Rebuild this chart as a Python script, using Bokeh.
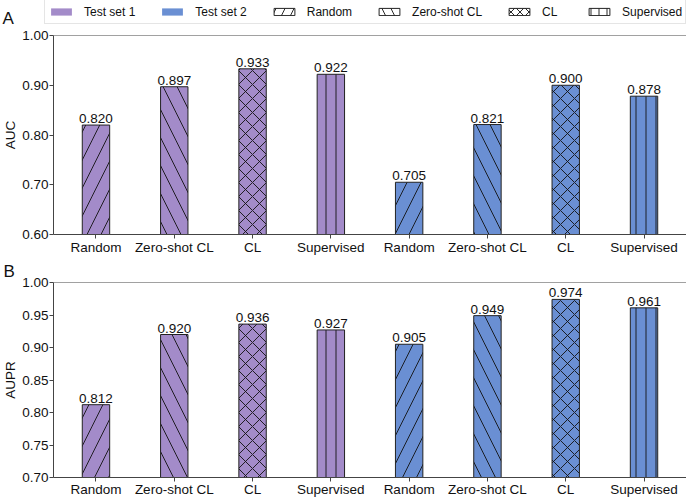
from bokeh.plotting import figure
from bokeh.models import (Range1d, FixedTicker, Span, Label, Legend, LegendItem,
                          ColumnDataSource, PrintfTickFormatter)
from bokeh.layouts import column, row
from bokeh.embed import file_html
from bokeh.resources import INLINE
from bokeh.core.properties import value

# ---------------- data ----------------
methods = ["Random", "Zero-shot CL", "CL", "Supervised"]
test_sets = ["Test set 1", "Test set 2"]
auc_test1 = [0.820, 0.897, 0.933, 0.922]
auc_test2 = [0.705, 0.821, 0.900, 0.878]
aupr_test1 = [0.812, 0.920, 0.936, 0.927]
aupr_test2 = [0.905, 0.949, 0.974, 0.961]
auc_ticks = [0.60, 0.70, 0.80, 0.90, 1.00]
aupr_ticks = [0.70, 0.75, 0.80, 0.85, 0.90, 0.95, 1.00]

# ---------------- style ----------------
FONT = "Liberation Sans"
set_colors = ["#A38BC9", "#6A8FD3"]
hatch_of = {"Random": "/", "Zero-shot CL": "\\", "CL": "x", "Supervised": "|"}
hatch_scale_of = {"/": 28, "\\": 28, "x": 14, "|": 10}
AXIS = "#444444"
W = 686
BAR_W = 0.35


def make_panel(v1, v2, ylo, yhi, ticks, ylabel, letter, height, btop, bbot, xstand):
    p = figure(width=W, height=height, output_backend="svg", toolbar_location=None,
               x_range=Range1d(-0.5425, 7.5425), y_range=Range1d(ylo, yhi),
               min_border_left=53, min_border_right=0,
               min_border_top=btop, min_border_bottom=bbot)
    p.outline_line_color = None
    p.grid.visible = False
    p.background_fill_color = "white"
    p.border_fill_color = "white"

    xs_all = []
    tops_all = []
    for j, m in enumerate(methods):
        xs = [0 * 4 + j, 1 * 4 + j]
        tops = [v1[j], v2[j]]
        src = ColumnDataSource(dict(x=xs, top=tops, color=set_colors))
        hp = hatch_of[m]
        p.vbar(x="x", top="top", bottom=ylo, width=BAR_W, source=src,
               fill_color="color", line_color="#222222", line_width=1,
               hatch_pattern=hp, hatch_scale=hatch_scale_of[hp],
               hatch_color="#111111", hatch_weight=0.9)
        xs_all += xs
        tops_all += tops
    order = sorted(range(len(xs_all)), key=lambda k: xs_all[k])
    xs_sorted = [xs_all[k] for k in order]
    tops_sorted = [tops_all[k] for k in order]
    lab = ColumnDataSource(dict(x=xs_sorted, y=tops_sorted,
                                t=["%.3f" % v for v in tops_sorted]))
    p.text(x="x", y="y", text="t", source=lab, text_align="center",
           text_baseline="bottom", y_offset=-2,
           text_font=value(FONT), text_font_size="13.5px", text_color="#111111")

    p.add_layout(Span(location=yhi, dimension="width", line_color=AXIS, line_width=1))

    for ax in (p.xaxis[0], p.yaxis[0]):
        ax.axis_line_color = AXIS
        ax.axis_line_width = 1
        ax.major_tick_line_color = AXIS
        ax.major_tick_out = 4
        ax.major_tick_in = 0
        ax.minor_tick_line_color = None
        ax.major_label_text_font = FONT
        ax.major_label_text_font_size = "13.5px"
        ax.major_label_text_color = "#111111"
    xa = p.xaxis[0]
    xa.ticker = FixedTicker(ticks=list(range(8)))
    xa.major_label_standoff = xstand
    labels = methods + methods
    xa.major_label_overrides = {i: labels[i] for i in range(8)}
    ya = p.yaxis[0]
    ya.ticker = FixedTicker(ticks=ticks)
    ya.formatter = PrintfTickFormatter(format="%.2f")
    ya.major_label_standoff = 1
    ya.axis_label = ylabel
    ya.axis_label_text_font = FONT
    ya.axis_label_text_font_size = "13.5px"
    ya.axis_label_text_font_style = "normal"
    ya.axis_label_text_color = "#111111"
    ya.axis_label_standoff = 1

    if letter:
        p.title.text = letter
        p.title.align = "left"
        p.title.offset = -50
        p.title.standoff = 3
        p.title.text_font = FONT
        p.title.text_font_size = "17px"
        p.title.text_font_style = "normal"
        p.title.text_color = "#111111"
    return p


# ---------------- legend strip (with panel letter A) ----------------
LH = 28
pL = figure(width=W, height=LH, output_backend="svg", toolbar_location=None,
            x_range=Range1d(0, 1), y_range=Range1d(0, 1),
            x_axis_location=None, y_axis_location=None,
            min_border=0, min_border_left=0, min_border_right=0,
            min_border_top=0, min_border_bottom=0)
pL.grid.visible = False
pL.outline_line_color = None
pL.background_fill_color = "white"
pL.border_fill_color = "white"

items = []
for i, s in enumerate(test_sets):
    r = pL.vbar(x=[5], top=[5], bottom=4, width=BAR_W, fill_color=set_colors[i],
                line_color=None)
    items.append(LegendItem(label=s, renderers=[r]))
leg_scale = {"/": 18, "\\": 18, "x": 9, "|": 8}
for m in methods:
    hp = hatch_of[m]
    r = pL.vbar(x=[5], top=[5], bottom=4, width=BAR_W, fill_color="white",
                line_color="#222222", line_width=1, hatch_pattern=hp,
                hatch_scale=leg_scale[hp], hatch_color="#111111", hatch_weight=0.9)
    items.append(LegendItem(label=m, renderers=[r]))

legend = Legend(items=items, orientation="horizontal", location=(44, 4),
                glyph_width=26, glyph_height=9, label_standoff=10, spacing=24,
                padding=3, margin=0, label_text_font=FONT, label_text_font_size="12px",
                label_text_color="#111111", label_height=17,
                border_line_color="#cccccc", border_line_width=1,
                background_fill_color="white", background_fill_alpha=1)
pL.add_layout(legend, "center")
pL.add_layout(Label(x=2, y=10, x_units="screen", y_units="screen", text="A",
                    text_font=FONT, text_font_size="17px", text_color="#111111",
                    text_baseline="middle"))

pA = make_panel(auc_test1, auc_test2, 0.60, 1.00, auc_ticks, "AUC", None, 230, 7, 24, 1)
pB = make_panel(aupr_test1, aupr_test2, 0.70, 1.00, aupr_ticks, "AUPR", "B", 241, 24, 20, 0)

layout = column(row(pL), pA, pB, spacing=0)
open("out.html", "w").write(file_html(layout, INLINE))
